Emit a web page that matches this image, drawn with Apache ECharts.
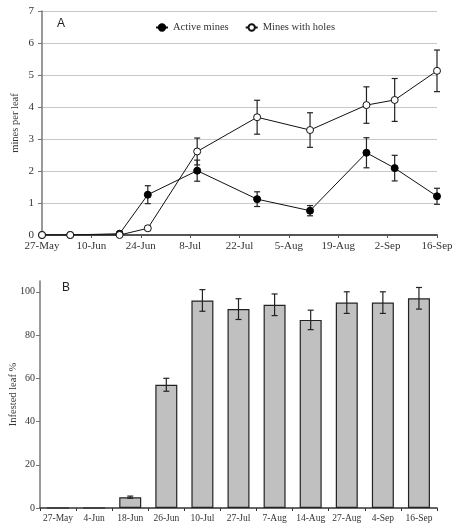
<!DOCTYPE html>
<html>
<head>
<meta charset="utf-8">
<script src="https://cdn.jsdelivr.net/npm/echarts@6/dist/echarts.min.js"></script>
<style>html,body{margin:0;padding:0;background:#fff}#c{width:455px;height:523px}</style>
</head>
<body>
<div id="c"></div>
<script>
// ---- Panel A data ----
const topDates = ['27-May','4-Jun','18-Jun','26-Jun','10-Jul','27-Jul','11-Aug','27-Aug','4-Sep','16-Sep'];
const activeMean = [0, 0, 0.04, 1.26, 2.01, 1.12, 0.76, 2.57, 2.09, 1.21];
const activeErr  = [0, 0, 0.02, 0.28, 0.33, 0.23, 0.16, 0.47, 0.40, 0.25];
const holesMean  = [0, 0, 0, 0.21, 2.61, 3.68, 3.28, 4.06, 4.22, 5.13];
const holesErr   = [0, 0, 0, 0.07, 0.42, 0.53, 0.54, 0.57, 0.67, 0.65];
const topTickLabels = ['27-May','10-Jun','24-Jun','8-Jul','22-Jul','5-Aug','19-Aug','2-Sep','16-Sep'];

// ---- Panel B data ----
const barCategories = ['27-May','4-Jun','18-Jun','26-Jun','10-Jul','27-Jul','7-Aug','14-Aug','27-Aug','4-Sep','16-Sep'];
const infested    = [0, 0, 5, 57, 96, 92, 94, 87, 95, 95, 97];
const infestedErr = [0, 0, 0.5, 3, 5, 4.8, 5, 4.5, 5, 5, 5];

const MONTHS = {Jan:0,Feb:1,Mar:2,Apr:3,May:4,Jun:5,Jul:6,Aug:7,Sep:8,Oct:9,Nov:10,Dec:11};
function dayOf(s){ const p = s.split('-'); return Math.round((Date.UTC(2000, MONTHS[p[1]], +p[0]) - Date.UTC(2000, 4, 27)) / 864e5); }
const tickDays = topTickLabels.map(dayOf);
const topX = topDates.map(dayOf);

const serif = '"Liberation Serif", "DejaVu Serif", serif';
const txt = '#333';

function errRender(params, api){
  const x = api.value(0), lo = api.value(1), hi = api.value(2);
  if (hi - lo <= 0) return;
  const p1 = api.coord([x, hi]), p2 = api.coord([x, lo]);
  const w = 3;
  const st = {stroke:'#222', lineWidth:1.2};
  return {type:'group', children:[
    {type:'line', shape:{x1:p1[0], y1:p1[1], x2:p2[0], y2:p2[1]}, style:st},
    {type:'line', shape:{x1:p1[0]-w, y1:p1[1], x2:p1[0]+w, y2:p1[1]}, style:st},
    {type:'line', shape:{x1:p2[0]-w, y1:p2[1], x2:p2[0]+w, y2:p2[1]}, style:st}
  ]};
}

const chart = echarts.init(document.getElementById('c'), null, {renderer:'canvas'});
chart.setOption({
  animation:false,
  backgroundColor:'#fff',
  textStyle:{fontFamily:serif},
  grid:[
    {left:42, right:18, top:11, height:224, containLabel:false, outerBoundsMode:'none'},
    {left:40, right:18, top:281, height:227, containLabel:false, outerBoundsMode:'none'}
  ],
  legend:{
    left:150, top:17, itemWidth:12, itemHeight:8, itemGap:16,
    textStyle:{fontFamily:serif, fontSize:10.5, color:txt},
    data:['Active mines','Mines with holes']
  },
  graphic:[
    {type:'text', left:57, top:18, style:{text:'A', font:'12px "Liberation Sans", Arial, sans-serif', fill:'#222'}},
    {type:'text', left:62, top:282, style:{text:'B', font:'12px "Liberation Sans", Arial, sans-serif', fill:'#222'}}
  ],
  xAxis:[
    {gridIndex:0, type:'value', min:0, max:112, interval:14,
     axisLine:{lineStyle:{color:'#555', width:2}},
     axisTick:{show:true, length:3, lineStyle:{color:'#555'}},
     splitLine:{show:false},
     axisLabel:{fontFamily:serif, fontSize:11, color:txt, margin:6,
       formatter:function(v){ const i = tickDays.indexOf(Math.round(v)); return i>=0 ? topTickLabels[i] : ''; }}
    },
    {gridIndex:1, type:'category', data:barCategories,
     axisLine:{lineStyle:{color:'#333', width:1.5}},
     axisTick:{show:true, length:3, lineStyle:{color:'#333'}},
     axisLabel:{fontFamily:serif, fontSize:9.5, color:txt, margin:5, interval:0}
    }
  ],
  yAxis:[
    {gridIndex:0, type:'value', min:0, max:7, interval:1,
     name:'mines per leaf', nameLocation:'middle', nameGap:21, nameMoveOverlap:false,
     nameTextStyle:{fontFamily:serif, fontSize:10.5, color:txt},
     axisLine:{show:true, lineStyle:{color:'#777', width:1.5}},
     axisTick:{show:true, length:4, lineStyle:{color:'#777'}},
     splitLine:{show:true, lineStyle:{color:'#c8c8c8', width:1}},
     axisLabel:{fontFamily:serif, fontSize:11, color:txt, margin:8}
    },
    {gridIndex:1, type:'value', min:0, max:105, interval:20,
     name:'Infested leaf %', nameLocation:'middle', nameGap:21, nameMoveOverlap:false,
     nameTextStyle:{fontFamily:serif, fontSize:10.5, color:txt},
     axisLine:{show:true, lineStyle:{color:'#777', width:1.5}},
     axisTick:{show:true, length:4, lineStyle:{color:'#777'}},
     splitLine:{show:false},
     axisLabel:{fontFamily:serif, fontSize:10, color:txt, margin:5, showMaxLabel:false}
    }
  ],
  series:[
    {name:'Active mines', type:'line', xAxisIndex:0, yAxisIndex:0, z:3,
     data:topX.map((x,i)=>[x, activeMean[i]]),
     symbol:'circle', symbolSize:7,
     lineStyle:{color:'#111', width:1},
     itemStyle:{color:'#000', borderColor:'#000', borderWidth:1}
    },
    {name:'Mines with holes', type:'line', xAxisIndex:0, yAxisIndex:0, z:4,
     data:topX.map((x,i)=>[x, holesMean[i]]),
     symbol:'circle', symbolSize:7,
     lineStyle:{color:'#111', width:1},
     itemStyle:{color:'#fff', borderColor:'#111', borderWidth:1}
    },
    {type:'custom', xAxisIndex:0, yAxisIndex:0, z:2, renderItem:errRender,
     data:topX.map((x,i)=>[x, activeMean[i]-activeErr[i], activeMean[i]+activeErr[i]])},
    {type:'custom', xAxisIndex:0, yAxisIndex:0, z:2, renderItem:errRender,
     data:topX.map((x,i)=>[x, holesMean[i]-holesErr[i], holesMean[i]+holesErr[i]])},
    {type:'bar', xAxisIndex:1, yAxisIndex:1, data:infested, barWidth:22,
     itemStyle:{color:'#c0c0c0', borderColor:'#222', borderWidth:1.2}},
    {type:'custom', xAxisIndex:1, yAxisIndex:1, z:5, renderItem:errRender,
     data:barCategories.map((c,i)=>[i, infested[i]-infestedErr[i], infested[i]+infestedErr[i]])}
  ]
});
</script>
</body>
</html>
